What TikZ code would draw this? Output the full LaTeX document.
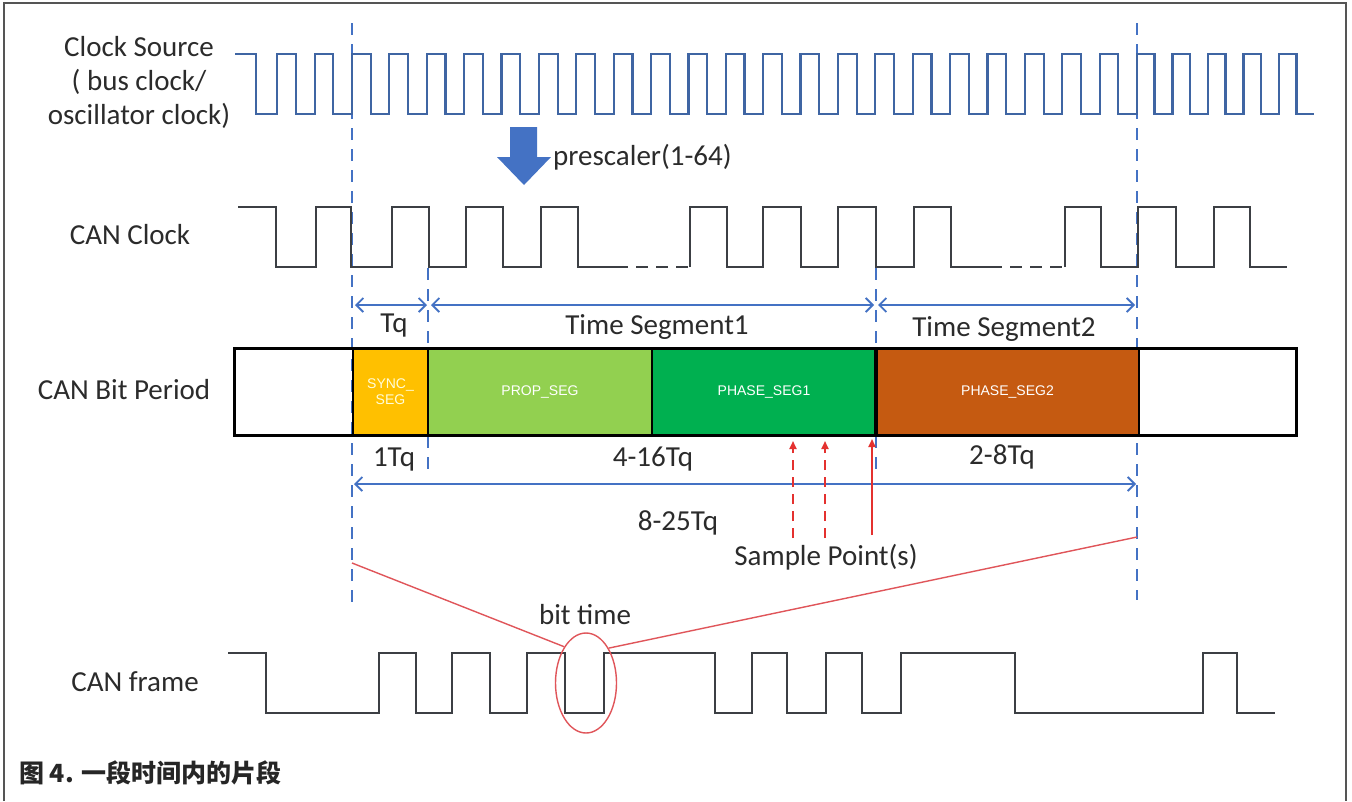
\documentclass[tikz,border=0pt]{standalone}
\usepackage{fontspec}
\setmainfont{Carlito}
\newfontfamily\segfont{Liberation Sans}
\newfontfamily\cjk{Noto Sans CJK SC}
\usetikzlibrary{arrows.meta,shapes.geometric}
\definecolor{clkblue}{HTML}{3F65A3}
\definecolor{dimblue}{HTML}{4472C4}
\definecolor{wavegray}{HTML}{3C3F44}
\definecolor{txt}{HTML}{2B2B2B}
\definecolor{syncc}{HTML}{FFC000}
\definecolor{propc}{HTML}{92D050}
\definecolor{ph1c}{HTML}{00B050}
\definecolor{ph2c}{HTML}{C55A11}
\definecolor{redl}{HTML}{E4312F}
\definecolor{ellred}{HTML}{E0555A}
\definecolor{framegray}{HTML}{555555}
\begin{document}
\begin{tikzpicture}[x=1pt,y=-1pt,
  lbl/.style={font=\fontsize{29}{34}\selectfont, text=txt, inner sep=0pt},
  seglbl/.style={font=\segfont\fontsize{14}{16}\selectfont, text=white, align=center},
  segbox/.style={minimum height=87pt, inner sep=0pt, draw=none},
  clkline/.style={draw=clkblue, line width=2.2pt},
  wave/.style={draw=wavegray, line width=2.5pt},
  vdash/.style={draw=dimblue, line width=1.8pt, dash pattern=on 12pt off 9pt},
  dimarrow/.style={draw=dimblue, line width=1.8pt, {Straight Barb[length=7pt,width=14pt]}-{Straight Barb[length=7pt,width=14pt]}},
  sampdash/.style={draw=redl, line width=1.8pt, dash pattern=on 10pt off 7pt, -{Triangle[length=8pt,width=7pt]}},
  sampsolid/.style={draw=redl, line width=1.8pt, -{Triangle[length=8pt,width=7pt]}},
  zoomline/.style={draw=ellred, line width=1.4pt},
  divider/.style={draw=black, line width=2.5pt}]
\useasboundingbox (0,0) rectangle (1352,801);
\fill[white] (0,0) rectangle (1352,801);
\draw[framegray, line width=2pt] (4,801) -- (4,3) -- (1346,3) -- (1346,801);

% dashed guide lines
\coordinate (g1t) at (352,23);  \coordinate (g1b) at (352,605);
\coordinate (g2t) at (1137,23); \coordinate (g2b) at (1137,600);
\coordinate (g3t) at (428,268); \coordinate (g3b) at (428,475);
\coordinate (g4t) at (876,268); \coordinate (g4b) at (876,475);
\draw[vdash] (g1t) -- (g1b);
\draw[vdash] (g2t) -- (g2b);
\draw[vdash] (g3t) -- (g3b);
\draw[vdash] (g4t) -- (g4b);

% clock source
\draw[clkline] (235,54) -- (256,54) -- (256,114)
  \foreach \k in {0,...,22} { -- ({277.24+37.38*\k},114) -- ({277.24+37.38*\k},54) -- ({296+37.38*\k},54) -- ({296+37.38*\k},114) }
  \foreach \k in {0,...,4} { -- ({1137+35.5*\k},114) -- ({1137+35.5*\k},54) -- ({1154.5+35.5*\k},54) -- ({1154.5+35.5*\k},114) }
  -- (1314,114);

% prescaler arrow
\fill[dimblue] (510,127) -- (537,127) -- (537,157) -- (551,157) -- (524,185) -- (497,157) -- (510,157) -- cycle;
\node[lbl, anchor=west] (presc) at (553,157) {prescaler(1-64)};

% CAN clock
\draw[wave] (238,207) -- (276,207) -- (276,267) -- (316,267) -- (316,207) -- (351,207) -- (351,267) -- (392,267) -- (392,207) -- (429,207) -- (429,267) -- (466,267) -- (466,207) -- (503,207) -- (503,267) -- (541,267) -- (541,207) -- (578,207) -- (578,267) -- (616,267);
\draw[wave, dash pattern=on 12pt off 8pt] (616,267) -- (690,267);
\draw[wave] (690,267) -- (690,207) -- (727,207) -- (727,267) -- (763,267) -- (763,207) -- (801,207) -- (801,267) -- (838,267) -- (838,207) -- (876,207) -- (876,267) -- (914,267) -- (914,207) -- (951,207) -- (951,267) -- (990,267);
\draw[wave, dash pattern=on 12pt off 8pt] (990,267) -- (1065,267);
\draw[wave] (1065,267) -- (1065,207) -- (1101,207) -- (1101,267) -- (1138,267) -- (1138,207) -- (1176,207) -- (1176,267) -- (1214,267) -- (1214,207) -- (1250,207) -- (1250,267) -- (1287,267);

% dimension arrows
\coordinate (tqL) at (355,305); \coordinate (tqR) at (427,305);
\coordinate (t1L) at (431,305); \coordinate (t1R) at (874,305);
\coordinate (t2L) at (878,305); \coordinate (t2R) at (1135,305);
\coordinate (totL) at (354,484); \coordinate (totR) at (1136,484);
\draw[dimarrow] (tqL) -- (tqR);
\draw[dimarrow] (t1L) -- (t1R);
\draw[dimarrow] (t2L) -- (t2R);
\draw[dimarrow] (totL) -- (totR);

% bit period
\node[segbox, fill=syncc, minimum width=75pt, seglbl, text=white!85!yellow] (sync) at (390.5,391.5) {SYNC\_\\SEG};
\node[segbox, fill=propc, minimum width=224pt, seglbl] (prop) at (540,391.5) {PROP\_SEG};
\node[segbox, fill=ph1c, minimum width=224pt, seglbl] (ph1) at (764,391.5) {PHASE\_SEG1};
\node[segbox, fill=ph2c, minimum width=263pt, seglbl] (ph2) at (1007.5,391.5) {PHASE\_SEG2};
\draw[divider] (sync.north west) -- (sync.south west);
\draw[divider] (prop.north west) -- (prop.south west);
\draw[divider] (ph1.north west) -- (ph1.south west);
\draw[divider, line width=4pt] (ph2.north west) -- (ph2.south west);
\draw[divider] (ph2.north east) -- (ph2.south east);
\node[draw=black, line width=3pt, minimum width=1061.5pt, minimum height=87pt, inner sep=0pt] (bitrect) at (765.25,391.5) {};

% labels
\node[lbl, align=center] (lblsrc) at (139,82) {Clock Source\\( bus clock/\\oscillator clock)};
\node[lbl] (lblclk) at (130,235) {CAN Clock};
\node[lbl] (lblbit) at (124,390) {CAN Bit Period};
\node[lbl] (lblframe) at (135,682) {CAN frame};
\node[lbl] (tq) at (394,326) {Tq};
\node[lbl] (ts1) at (657,327) {Time Segment1};
\node[lbl] (ts2) at (1004,329) {Time Segment2};
\node[lbl] (one) at (394,459) {1Tq};
\node[lbl] (four) at (653,459) {4-16Tq};
\node[lbl] (two) at (1002,457) {2-8Tq};
\node[lbl] (eight) at (678,523) {8-25Tq};
\node[lbl] (samp) at (826,557) {Sample Point(s)};
\node[lbl] (bitt) at (585,615) {bit time};

% sample points
\coordinate (s1b) at (793,538); \coordinate (s1t) at (793,441);
\coordinate (s2b) at (825,538); \coordinate (s2t) at (825,441);
\coordinate (s3b) at (872,535); \coordinate (s3t) at (872,439);
\draw[sampdash] (s1b) -- (s1t);
\draw[sampdash] (s2b) -- (s2t);
\draw[sampsolid] (s3b) -- (s3t);

% CAN frame
\draw[wave] (228,653) -- (266,653) -- (266,713) -- (379,713) -- (379,653) -- (416,653) -- (416,713) -- (452,713) -- (452,653) -- (490,653) -- (490,713) -- (527,713) -- (527,653) -- (565,653) -- (565,713) -- (604,713) -- (604,653) -- (715,653) -- (715,713) -- (752,713) -- (752,653) -- (787,653) -- (787,713) -- (826,713) -- (826,653) -- (862,653) -- (862,713) -- (901,713) -- (901,653) -- (1015,653) -- (1015,713) -- (1203,713) -- (1203,653) -- (1237,653) -- (1237,713) -- (1275,713);

% zoom ellipse
\node[ellipse, draw=ellred, line width=1.4pt, minimum width=61pt, minimum height=100pt, inner sep=0pt] (bitell) at (586,683) {};
\coordinate (zl) at (352,563);
\coordinate (zr) at (1137,537);
\draw[zoomline] (zl) -- (bitell.121);
\draw[zoomline] (zr) -- (bitell.57);

% caption
\node[anchor=west, inner sep=0pt, font=\cjk\bfseries\fontsize{25}{30}\selectfont, text=black!85] (cap) at (19,773) {图 4. 一段时间内的片段};
\end{tikzpicture}
\end{document}
